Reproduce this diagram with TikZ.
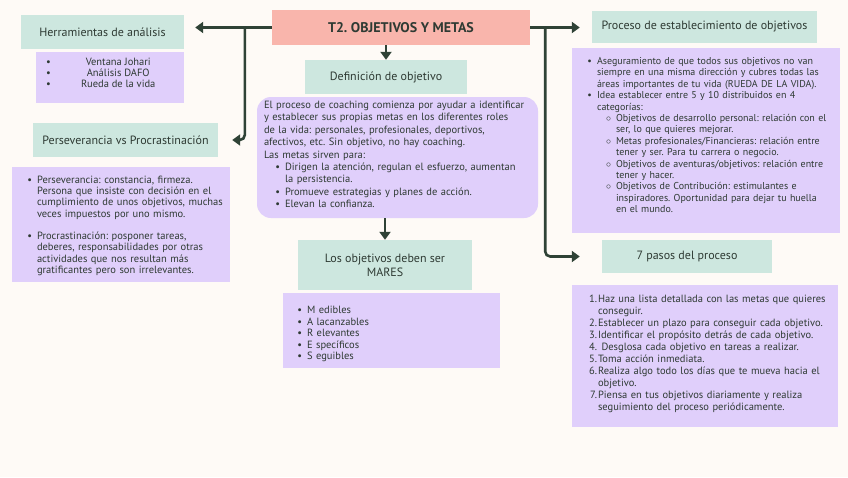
\documentclass[tikz,border=0pt]{standalone}
\usepackage{fontspec}
\setmainfont{PT Sans}
\usepackage{enumitem}
\usetikzlibrary{positioning, arrows.meta, calc}

\definecolor{cream}{HTML}{FEFAF6}
\definecolor{mint}{HTML}{CDE7DF}
\definecolor{lav}{HTML}{E0CFFB}
\definecolor{salmon}{HTML}{F9B5AC}
\definecolor{ink}{HTML}{2E3A33}
\definecolor{wire}{HTML}{2F4236}

\setlist[itemize]{label=\textbullet, leftmargin=12pt, labelsep=5pt, itemsep=0pt, topsep=0pt, parsep=0pt, partopsep=0pt}
\setlist[enumerate]{label=\arabic*., leftmargin=10pt, labelsep=1pt, itemsep=0pt, topsep=0pt, parsep=0pt, partopsep=0pt}
\frenchspacing

\begin{document}
\begin{tikzpicture}[x=1pt, y=-1pt,
          font=\fontsize{10.5}{11.5}\selectfont, text=ink,
          head/.style={fill=mint, minimum height=34pt, inner sep=2pt, font=\fontsize{12}{14}\selectfont},
          panel/.style={fill=lav, inner sep=0pt},
          body/.style={anchor=north west, inner sep=0pt, align=left},
          ar/.style={draw=wire, line width=2.6pt, -{Triangle[length=8pt, width=11pt]}}]
        \fill[cream] (0,0) rectangle (848,477);
        \useasboundingbox (0,0) rectangle (848,477);
        % title
        \node[fill=salmon, minimum width=258pt, minimum height=35pt, font=\bfseries\fontsize{14}{16}\selectfont] (title) at (401,27.5) {T2. OBJETIVOS Y METAS};
        % left column
        \node[head, minimum width=163pt] (tools) at (102.5,32) {Herramientas de análisis};
        \node[panel, minimum width=148pt, minimum height=51pt] (toolsbox) at (110,77.5) {};
        \node[body, font=\fontsize{10.5}{11}\selectfont] (toolslist) at ($(toolsbox.north west)+(10,6)$) {%
          \textbullet\makebox[135pt][c]{Ventana Johari}\\
          \textbullet\makebox[135pt][c]{Análisis DAFO}\\
          \textbullet\makebox[135pt][c]{Rueda de la vida}};
        \node[head, minimum width=185pt] (persev) at (125.5,140) {Perseverancia vs Procrastinación};
        \node[panel, minimum width=218pt, minimum height=115pt] (persevbox) at (121,224.5) {};
        \node[body, text width=200pt, font=\fontsize{10.5}{11.3}\selectfont] (persevtext) at ($(persevbox.north west)+(13,5)$) {%
          \begin{itemize}[itemsep=11pt]
          \item Perseverancia: constancia, firmeza.\newline Persona que insiste con decisión en el\newline cumplimiento de unos objetivos, muchas\newline veces impuestos por uno mismo.
          \item Procrastinación: posponer tareas,\newline deberes, responsabilidades por otras\newline actividades que nos resultan más\newline gratificantes pero son irrelevantes.
          \end{itemize}};
        % middle column
        \node[head, minimum width=162pt] (defin) at (386,77) {Definición de objetivo};
        \node[panel, rounded corners=14pt, minimum width=281pt, minimum height=121pt] (defbox) at (397.5,157.5) {};
        \node[body, text width=272pt, font=\fontsize{10.5}{12.4}\selectfont] (deftext) at ($(defbox.north west)+(7,4)$) {%
          El proceso de coaching comienza por ayudar a identificar\newline
          y establecer sus propias metas en los diferentes roles\newline
          de la vida: personales, profesionales, deportivos,\newline
          afectivos, etc. Sin objetivo, no hay coaching.\newline
          Las metas sirven para:
          \begin{itemize}[leftmargin=21pt]
          \item Dirigen la atención, regulan el esfuerzo, aumentan\newline la persistencia.
          \item Promueve estrategias y planes de acción.
          \item Elevan la confianza.
          \end{itemize}};
        \node[head, minimum width=174pt, minimum height=50pt, align=center] (mares) at (385,265) {Los objetivos deben ser\\MARES};
        \node[panel, minimum width=217pt, minimum height=75pt] (maresbox) at (391.5,330.5) {};
        \node[body, text width=190pt] (marestext) at ($(maresbox.north west)+(12,9)$) {%
          \begin{itemize}
          \item M edibles
          \item A lacanzables
          \item R elevantes
          \item E specíficos
          \item S eguibles
          \end{itemize}};
        % right column
        \node[head, minimum width=225pt, minimum height=32pt] (proceso) at (704.5,27) {Proceso de establecimiento de objetivos};
        \node[panel, minimum width=268pt, minimum height=185pt] (procbox) at (706,140.5) {};
        \node[body, text width=256pt, font=\fontsize{10}{11.4}\selectfont] (proctext) at ($(procbox.north west)+(14,5)$) {%
          \begin{itemize}[leftmargin=11pt]
          \item Aseguramiento de que todos sus objetivos no van\newline siempre en una misma dirección y cubres todas las\newline áreas importantes de tu vida (RUEDA DE LA VIDA).
          \item Idea establecer entre 5 y 10 distribuidos en 4\newline categorías:
            \begin{itemize}[label=$\circ$, leftmargin=19pt]
            \item Objetivos de desarrollo personal: relación con el\newline ser, lo que quieres mejorar.
            \item Metas profesionales/Financieras: relación entre\newline tener y ser. Para tu carrera o negocio.
            \item Objetivos de aventuras/objetivos: relación entre\newline tener y hacer.
            \item Objetivos de Contribución: estimulantes e\newline inspiradores. Oportunidad para dejar tu huella\newline en el mundo.
            \end{itemize}
          \end{itemize}};
        \node[head, minimum width=170pt, minimum height=33pt] (pasos) at (687,256.5) {7 pasos del proceso};
        \node[panel, minimum width=266pt, minimum height=142pt] (pasosbox) at (705,356) {};
        \node[body, text width=245pt, font=\fontsize{10.5}{12}\selectfont] (pasostext) at ($(pasosbox.north west)+(16,5)$) {%
          \begin{enumerate}
          \item Haz una lista detallada con las metas que quieres\newline conseguir.
          \item Establecer un plazo para conseguir cada objetivo.
          \item Identificar el propósito detrás de cada objetivo.
          \item \ Desglosa cada objetivo en tareas a realizar.
          \item Toma acción inmediata.
          \item Realiza algo todo los días que te mueva hacia el\newline objetivo.
          \item Piensa en tus objetivos diariamente y realiza\newline seguimiento del proceso periódicamente.
          \end{enumerate}};
        % connectors
        \coordinate (jl) at ($(title.west)+(-27,0)$);
        \coordinate (jr) at ($(title.east)+(15,0)$);
        \draw[ar, shorten >=11pt] (title.west) -- (title.west -| tools.east);
        \draw[ar, rounded corners=5pt, shorten >=14pt] (jl) |- (persev.east);
        \draw[ar, shorten >=12pt] (title.east) -- (title.east -| proceso.west);
        \draw[ar, rounded corners=5pt, shorten >=22pt] (jr) |- (pasos.west);
        \draw[ar] (title.south -| defin.north) -- (defin.north);
        \draw[ar] (defbox.south -| mares.north) -- (mares.north);
      \end{tikzpicture}
\end{document}
